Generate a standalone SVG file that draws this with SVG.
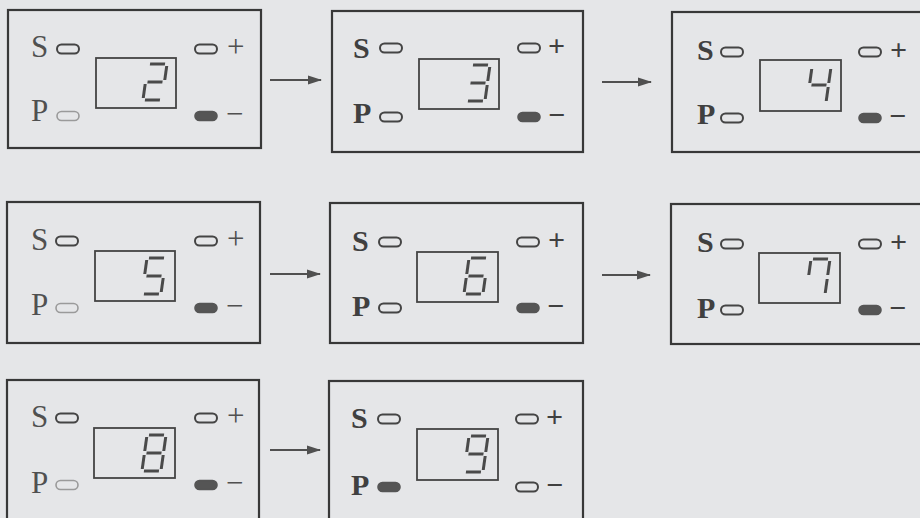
<svg xmlns="http://www.w3.org/2000/svg" width="920" height="518" viewBox="0 0 920 518">
<style>
.bg{fill:#e5e6e8}
.box{fill:none;stroke:#383838;stroke-width:2.2}
.disp{fill:none;stroke:#444;stroke-width:1.8}
.ov{fill:none;stroke:#444;stroke-width:2}
.ovl{fill:none;stroke:#9a9a9a;stroke-width:1.6}
.on{fill:#555;stroke:#555;stroke-width:1.6}
.lab{font-family:"Liberation Serif","Times New Roman",serif;font-size:31px;fill:#505050}
.labb{font-family:"Liberation Serif","Times New Roman",serif;font-size:30px;font-weight:bold;fill:#404040}
.sg{stroke:#4a4a4a;stroke-width:3;fill:none}
.conn line{stroke:#505050;stroke-width:2}
</style>
<defs>
<marker id="ah" markerUnits="userSpaceOnUse" markerWidth="14" markerHeight="10" refX="13" refY="5" orient="auto">
<path d="M0,0.5 L14,5 L0,9.5 Z" fill="#505050"/>
</marker>
<line id="sa" class="sg" x1="3" y1="0" x2="18" y2="0"/>
<line id="sb" class="sg" x1="20" y1="2" x2="20" y2="16"/>
<line id="sc" class="sg" x1="20" y1="20" x2="20" y2="34"/>
<line id="sd" class="sg" x1="3" y1="36" x2="18" y2="36"/>
<line id="se" class="sg" x1="1" y1="20" x2="1" y2="34"/>
<line id="sf" class="sg" x1="1" y1="2" x2="1" y2="16"/>
<line id="sgm" class="sg" x1="3" y1="18" x2="18" y2="18"/>
<g id="d2"><use href="#sa"/><use href="#sb"/><use href="#sgm"/><use href="#se"/><use href="#sd"/></g>
<g id="d3"><use href="#sa"/><use href="#sb"/><use href="#sgm"/><use href="#sc"/><use href="#sd"/></g>
<g id="d4"><use href="#sf"/><use href="#sgm"/><use href="#sb"/><use href="#sc"/></g>
<g id="d5"><use href="#sa"/><use href="#sf"/><use href="#sgm"/><use href="#sc"/><use href="#sd"/></g>
<g id="d6"><use href="#sa"/><use href="#sf"/><use href="#sgm"/><use href="#se"/><use href="#sc"/><use href="#sd"/></g>
<g id="d7"><use href="#sa"/><use href="#sf"/><use href="#sb"/><use href="#sc"/></g>
<g id="d8"><use href="#sa"/><use href="#sb"/><use href="#sc"/><use href="#sd"/><use href="#se"/><use href="#sf"/><use href="#sgm"/></g>
<g id="d9"><use href="#sa"/><use href="#sb"/><use href="#sc"/><use href="#sd"/><use href="#sf"/><use href="#sgm"/></g>
</defs>
<rect class="bg" x="0" y="0" width="920" height="518"/>

<g id="panel-2" transform="translate(8,10)">
<rect class="box" x="0" y="0" width="253" height="138"/>
<text class="lab" x="23" y="47">S</text>
<text class="lab" x="23" y="111">P</text>
<rect class="ov" x="49" y="34.5" width="22" height="9" rx="4.5"/>
<rect class="ov" x="187" y="34.5" width="22" height="9" rx="4.5"/>
<rect class="ovl" x="49" y="101.5" width="22" height="9" rx="4.5"/>
<rect class="on" x="187" y="101.5" width="22" height="9" rx="4.5"/>
<text class="lab" x="219" y="47">+</text>
<text class="lab" x="218" y="114">−</text>
<rect class="disp" x="88" y="48" width="80" height="50"/>
<use href="#d2" transform="translate(139,54) skewX(-8)"/>
</g>

<g id="panel-3" transform="translate(332,11)">
<rect class="box" x="0" y="0" width="251" height="141"/>
<text class="labb" x="21" y="47">S</text>
<text class="labb" x="21" y="112">P</text>
<rect class="ov" x="48" y="32.5" width="22" height="9" rx="4.5"/>
<rect class="ov" x="186" y="32.5" width="22" height="9" rx="4.5"/>
<rect class="ov" x="48" y="101.5" width="22" height="9" rx="4.5"/>
<rect class="on" x="186" y="101.5" width="22" height="9" rx="4.5"/>
<text class="labb" x="216" y="45">+</text>
<text class="labb" x="216" y="114">−</text>
<rect class="disp" x="87" y="48" width="80" height="50"/>
<use href="#d3" transform="translate(138,54) skewX(-8)"/>
</g>

<g id="panel-4" transform="translate(672,12)">
<rect class="box" x="0" y="0" width="252" height="140"/>
<text class="labb" x="25" y="48">S</text>
<text class="labb" x="25" y="112">P</text>
<rect class="ov" x="49" y="35.5" width="22" height="9" rx="4.5"/>
<rect class="ov" x="187" y="35.5" width="22" height="9" rx="4.5"/>
<rect class="ov" x="49" y="101.5" width="22" height="9" rx="4.5"/>
<rect class="on" x="187" y="101.5" width="22" height="9" rx="4.5"/>
<text class="labb" x="218" y="48">+</text>
<text class="labb" x="217" y="114">−</text>
<rect class="disp" x="88" y="48" width="81" height="51"/>
<use href="#d4" transform="translate(139,55) skewX(-8)"/>
</g>

<g id="panel-5" transform="translate(7,202)">
<rect class="box" x="0" y="0" width="253" height="141"/>
<text class="lab" x="24" y="48">S</text>
<text class="lab" x="24" y="113">P</text>
<rect class="ov" x="49" y="34.5" width="22" height="9" rx="4.5"/>
<rect class="ov" x="188" y="34.5" width="22" height="9" rx="4.5"/>
<rect class="ovl" x="49" y="101.5" width="22" height="9" rx="4.5"/>
<rect class="on" x="188" y="101.5" width="22" height="9" rx="4.5"/>
<text class="lab" x="220" y="47">+</text>
<text class="lab" x="219" y="114">−</text>
<rect class="disp" x="88" y="49" width="80" height="50"/>
<use href="#d5" transform="translate(139,56) skewX(-8)"/>
</g>

<g id="panel-6" transform="translate(330,203)">
<rect class="box" x="0" y="0" width="253" height="140"/>
<text class="labb" x="22" y="48">S</text>
<text class="labb" x="22" y="113">P</text>
<rect class="ov" x="49" y="34.5" width="22" height="9" rx="4.5"/>
<rect class="ov" x="187" y="34.5" width="22" height="9" rx="4.5"/>
<rect class="ov" x="49" y="100.5" width="22" height="9" rx="4.5"/>
<rect class="on" x="187" y="100.5" width="22" height="9" rx="4.5"/>
<text class="labb" x="218" y="47">+</text>
<text class="labb" x="217" y="113">−</text>
<rect class="disp" x="87" y="49" width="81" height="50"/>
<use href="#d6" transform="translate(138,55) skewX(-8)"/>
</g>

<g id="panel-7" transform="translate(671,204)">
<rect class="box" x="0" y="0" width="252" height="140"/>
<text class="labb" x="26" y="48">S</text>
<text class="labb" x="26" y="114">P</text>
<rect class="ov" x="50" y="35.5" width="22" height="9" rx="4.5"/>
<rect class="ov" x="188" y="35.5" width="22" height="9" rx="4.5"/>
<rect class="ov" x="50" y="101.5" width="22" height="9" rx="4.5"/>
<rect class="on" x="188" y="101.5" width="22" height="9" rx="4.5"/>
<text class="labb" x="219" y="48">+</text>
<text class="labb" x="218" y="114">−</text>
<rect class="disp" x="88" y="49" width="81" height="50"/>
<use href="#d7" transform="translate(139,55) skewX(-8)"/>
</g>

<g id="panel-8" transform="translate(7,380)">
<rect class="box" x="0" y="0" width="252" height="142"/>
<text class="lab" x="24" y="47">S</text>
<text class="lab" x="24" y="113">P</text>
<rect class="ov" x="49" y="33.5" width="22" height="9" rx="4.5"/>
<rect class="ov" x="188" y="33.5" width="22" height="9" rx="4.5"/>
<rect class="ovl" x="49" y="100.5" width="22" height="9" rx="4.5"/>
<rect class="on" x="188" y="100.5" width="22" height="9" rx="4.5"/>
<text class="lab" x="220" y="46">+</text>
<text class="lab" x="219" y="113">−</text>
<rect class="disp" x="87" y="48" width="81" height="50"/>
<use href="#d8" transform="translate(139,55) skewX(-8)"/>
</g>

<g id="panel-9" transform="translate(329,381)">
<rect class="box" x="0" y="0" width="254" height="142"/>
<text class="labb" x="22" y="47">S</text>
<text class="labb" x="22" y="114">P</text>
<rect class="ov" x="49" y="33.5" width="22" height="9" rx="4.5"/>
<rect class="ov" x="187" y="33.5" width="22" height="9" rx="4.5"/>
<rect class="on" x="49" y="101.5" width="22" height="9" rx="4.5"/>
<rect class="ov" x="187" y="101.5" width="22" height="9" rx="4.5"/>
<text class="labb" x="217" y="46">+</text>
<text class="labb" x="217" y="114">−</text>
<rect class="disp" x="88" y="48" width="81" height="51"/>
<use href="#d9" transform="translate(139,55) skewX(-8)"/>
</g>

<g id="connectors" class="conn">
<line x1="270" y1="80" x2="321" y2="80" marker-end="url(#ah)"/>
<line x1="602" y1="82" x2="651" y2="82" marker-end="url(#ah)"/>
<line x1="270" y1="274" x2="320" y2="274" marker-end="url(#ah)"/>
<line x1="602" y1="275" x2="650" y2="275" marker-end="url(#ah)"/>
<line x1="270" y1="450" x2="320" y2="450" marker-end="url(#ah)"/>
</g>
</svg>
